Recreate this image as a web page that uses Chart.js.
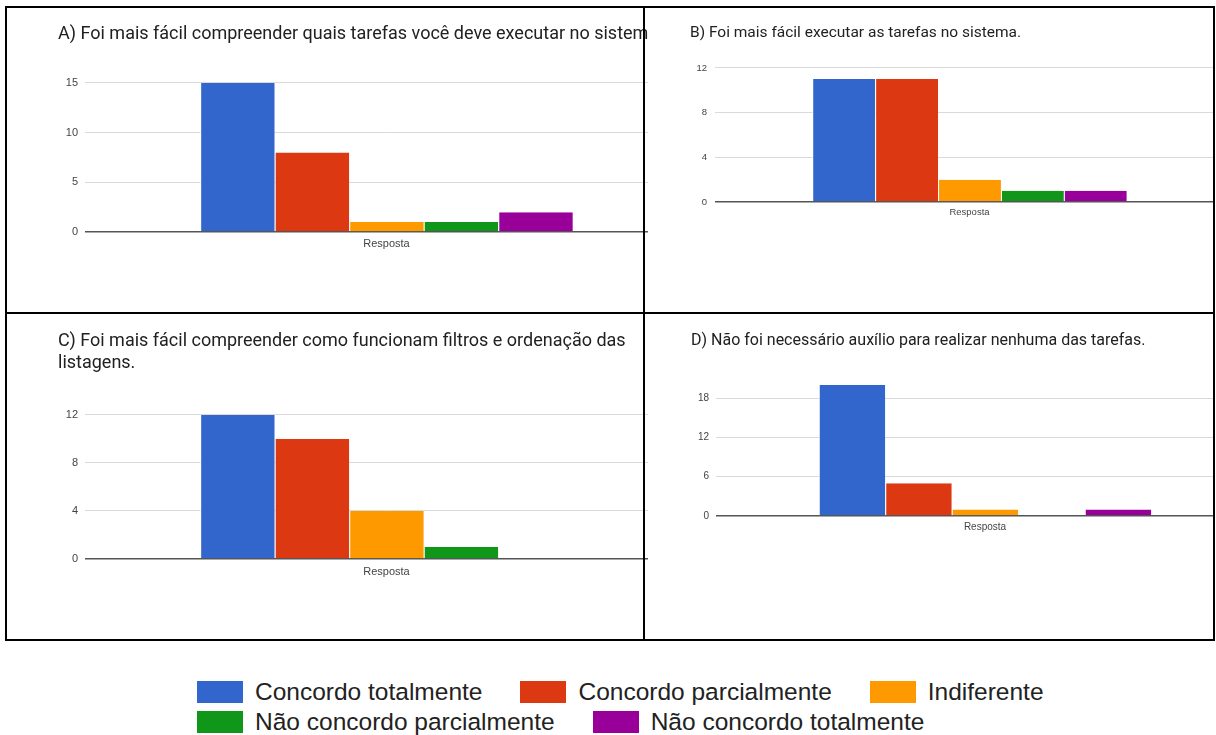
<!DOCTYPE html>
<html lang="pt-BR">
<head>
<meta charset="utf-8">
<title>Avaliação do sistema</title>
<script src="https://cdn.jsdelivr.net/npm/chart.js@4.4.1/dist/chart.umd.min.js"></script>
<style>
  html, body { margin: 0; padding: 0; background: #fff; }
  #pagina { position: relative; width: 1216px; height: 735px; overflow: hidden; background: #fff; }
  .quadro { position: absolute; overflow: hidden; }
  .quadro canvas { position: absolute; top: 0; }
  .linha { position: absolute; background: #000; z-index: 5; }
  #legenda {
    position: absolute; left: 197px; top: 677px; width: 920px;
    display: flex; flex-wrap: wrap;
    font: 24.5px "Liberation Sans", Arial, sans-serif; color: #222;
  }
  .item { display: flex; align-items: center; height: 30px; margin-right: 38px; white-space: nowrap; }
  .caixa { width: 46px; height: 22px; margin-right: 12px; }
</style>
</head>
<body>
<div id="pagina">
  <div class="quadro" style="left:7px; top:8px; width:641px; height:304px;">
    <canvas id="graficoA" width="681" height="300" style="left:0px;"></canvas>
  </div>
  <div class="quadro" style="left:645px; top:8px; width:568px; height:304px;">
    <canvas id="graficoB" width="576" height="300" style="left:3px;"></canvas>
  </div>
  <div class="quadro" style="left:7px; top:314px; width:641px; height:325px;">
    <canvas id="graficoC" width="681" height="322" style="left:0px;"></canvas>
  </div>
  <div class="quadro" style="left:645px; top:314px; width:568px; height:325px;">
    <canvas id="graficoD" width="606" height="322" style="left:3px;"></canvas>
  </div>

  <!-- molduras dos quatro quadros -->
  <div class="linha" style="left:5px; top:6px; width:1210px; height:2px;"></div>
  <div class="linha" style="left:5px; top:312px; width:1210px; height:2px;"></div>
  <div class="linha" style="left:5px; top:639px; width:1210px; height:2px;"></div>
  <div class="linha" style="left:5px; top:6px; width:2px; height:635px;"></div>
  <div class="linha" style="left:643px; top:6px; width:2px; height:635px;"></div>
  <div class="linha" style="left:1213px; top:6px; width:2px; height:635px;"></div>

  <div id="legenda"></div>
</div>

<script>
// categorias e séries (uma série por resposta)
var categorias = ["Resposta"];
var series     = ["Concordo totalmente", "Concordo parcialmente", "Indiferente",
                  "Não concordo parcialmente", "Não concordo totalmente"];
var cores      = ["#3366cc", "#dc3912", "#ff9900", "#109618", "#990099"];

// A) compreensão das tarefas
var tituloA = "A) Foi mais fácil compreender quais tarefas você deve executar no sistema.";
var dadosA  = [15, 8, 1, 1, 2];
var maxA    = 15;   // eixo: 0, 5, 10, 15
var passoA  = 5;

// B) execução das tarefas
var tituloB = "B) Foi mais fácil executar as tarefas no sistema.";
var dadosB  = [11, 11, 2, 1, 1];
var maxB    = 12;   // eixo: 0, 4, 8, 12
var passoB  = 4;

// C) filtros e ordenação
var tituloC = ["C) Foi mais fácil compreender como funcionam filtros e ordenação das", "listagens."];
var dadosC  = [12, 10, 4, 1, 0];
var maxC    = 12;   // eixo: 0, 4, 8, 12
var passoC  = 4;

// D) necessidade de auxílio
var tituloD = "D) Não foi necessário auxílio para realizar nenhuma das tarefas.";
var dadosD  = [20, 5, 1, 0, 1];
var maxD    = 21;   // eixo: 0, 6, 12, 18
var passoD  = 6;

Chart.defaults.font.family = "'Liberation Sans', Arial, sans-serif";

// monta um gráfico de colunas agrupadas
function criarGrafico(id, titulo, dados, max, passo, o) {
  var ctx = document.getElementById(id).getContext("2d");
  return new Chart(ctx, {
    type: "bar",
    data: {
      labels: categorias,
      datasets: series.map(function (nome, i) {
        return {
          label:           nome,
          data:            [dados[i]],
          backgroundColor: cores[i],
          borderColor:     "#ffffff",
          borderWidth:     { left: 1, top: 0, right: 0, bottom: 0 },
          barPercentage:      1,
          categoryPercentage: 0.618,
        };
      })
    },
    options: {
      responsive: false,
      animation:  false,
      layout: { padding: { left: o.esquerda, right: 0, top: 0, bottom: o.baixo } },
      plugins: {
        legend:  { display: false },
        tooltip: { enabled: false },
        title: {
          display: true,
          text:    titulo,
          align:   "start",
          color:   "#212121",
          font:    { family: "Roboto", size: o.tamTitulo, weight: "normal", lineHeight: 1.22 },
          padding: { top: o.tituloTopo, bottom: o.tituloBaixo },
        },
      },
      scales: {
        x: {
          grid:   { display: false, drawTicks: false },
          border: { display: false },
          ticks:  { color: "#444", font: { size: o.tamEixo }, padding: o.padX },
          afterFit: function (s) { s.height = 20; },
        },
        y: {
          min: 0,
          max: max,
          border: { display: false },
          grid: {
            drawTicks: false,
            color:     function (c) { return c.tick && c.tick.value === 0 ? "#555" : "#dadada"; },
            lineWidth: function (c) { return c.tick && c.tick.value === 0 ? 1.5 : 1; },
          },
          ticks: {
            stepSize:      passo,
            includeBounds: false,
            padding:       o.padY,
            color:         "#444",
            font:          { size: o.tamEixo },
          },
          afterFit: function (s) { s.width = o.largY; },
        }
      }
    }
  });
}

criarGrafico("graficoA", tituloA, dadosA, maxA, passoA,
  { esquerda: 51, baixo: 56, tamTitulo: 18, tituloTopo: 16, tituloBaixo: 37, tamEixo: 11, padX: 5, padY: 7, largY: 27 });
criarGrafico("graficoB", tituloB, dadosB, maxB, passoB,
  { esquerda: 42, baixo: 86, tamTitulo: 15.5, tituloTopo: 16, tituloBaixo: 25, tamEixo: 9.5, padX: 5, padY: 8, largY: 25 });
criarGrafico("graficoC", tituloC, dadosC, maxC, passoC,
  { esquerda: 51, baixo: 57, tamTitulo: 18, tituloTopo: 17, tituloBaixo: 40, tamEixo: 11, padX: 6, padY: 7, largY: 27 });
criarGrafico("graficoD", tituloD, dadosD, maxD, passoD,
  { esquerda: 43, baixo: 100, tamTitulo: 16, tituloTopo: 17, tituloBaixo: 28, tamEixo: 10, padX: 5, padY: 7, largY: 25 });

// legenda comum aos quatro gráficos
var legenda = document.getElementById("legenda");
series.forEach(function (nome, i) {
  var item = document.createElement("div");
  item.className = "item";
  var caixa = document.createElement("span");
  caixa.className = "caixa";
  caixa.style.background = cores[i];
  var texto = document.createElement("span");
  texto.textContent = nome;
  item.appendChild(caixa);
  item.appendChild(texto);
  legenda.appendChild(item);
});
</script>
</body>
</html>
